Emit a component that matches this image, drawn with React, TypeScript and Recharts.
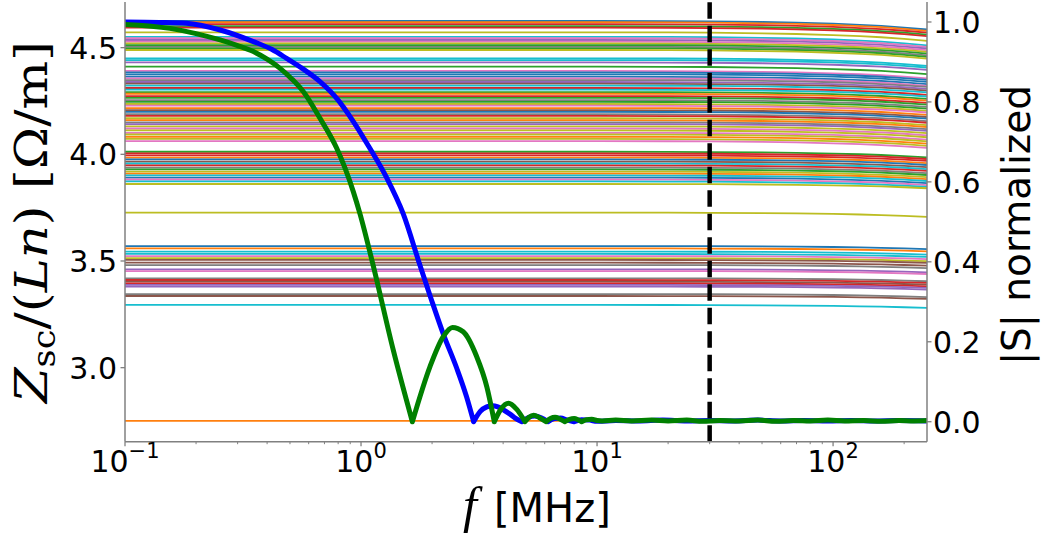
import React from 'react';
import { LineChart, Line, XAxis, YAxis } from 'recharts';

// matplotlib tab10 cycle
const TAB10 = ['#1f77b4', '#ff7f0e', '#2ca02c', '#d62728', '#9467bd', '#8c564b', '#e377c2', '#7f7f7f', '#bcbd22', '#17becf'];

// Z_sc/(Ln) [Ω/m] levels at low frequency, one entry per line, grouped by cluster
const zBandTop = [4.625, 4.619, 4.610, 4.601, 4.594, 4.572];
const zBandB = [4.551, 4.544, 4.536, 4.528, 4.520, 4.512, 4.504, 4.497, 4.489];
const zBandC = [4.450, 4.442, 4.431, 4.411];
const zBandD = [4.391, 4.384, 4.375, 4.364, 4.356];
const zBandE = [
  4.348, 4.339, 4.331, 4.322, 4.311, 4.303, 4.292, 4.284, 4.273, 4.265, 4.254, 4.246, 4.236, 4.228, 4.217, 4.207,
  4.199, 4.188, 4.180, 4.169, 4.160, 4.150, 4.142, 4.131, 4.121, 4.112, 4.101, 4.093, 4.082, 4.072, 4.062,
];
const zBandF = [4.012, 4.004, 3.995, 3.985, 3.976, 3.966, 3.957, 3.948, 3.938, 3.929, 3.919, 3.910, 3.901, 3.891, 3.882, 3.873];
const zSingles = [3.861, 3.727];
const zBandG = [3.570, 3.559, 3.544, 3.533, 3.523, 3.513, 3.505, 3.492, 3.481, 3.461, 3.453];
const zBandH = [3.419, 3.411, 3.403, 3.395, 3.388, 3.380, 3.345, 3.336, 3.294];
const zBottom = [2.751];

// how far each cluster has sagged by 250 MHz [Ω/m]
const zDrops = [0.04, 0.04, 0.035, 0.035, 0.032, 0.026, 0.02, 0.014, 0.014, 0];

// frequency samples for the Z lines and the share of the sag reached at each
const zFreqs = [0.1, 10, 20, 30, 50, 70, 100, 130, 160, 200, 250];
const zBend = [0, 0, 0.02, 0.05, 0.12, 0.2, 0.32, 0.45, 0.58, 0.77, 1];

// |S| normalized, blue
const blueFreqs = [
  0.1, 0.14, 0.182, 0.253, 0.35, 0.42, 0.484, 0.57, 0.67, 0.789, 0.928, 1.09, 1.285, 1.51, 1.78, 1.99, 2.23, 2.54, 2.8, 3.0,
  3.2, 3.41, 3.6, 3.8, 4.05, 4.28, 4.5, 4.8, 5.1, 5.45, 5.8, 6.2, 6.6, 7.0, 7.5, 8.0, 8.6, 9.3, 10,
  12, 15, 19, 24, 30, 38, 48, 60, 75, 95, 120, 150, 190, 250,
];
const blueS = [
  1.0, 0.999, 0.997, 0.98, 0.951, 0.931, 0.909, 0.882, 0.851, 0.809, 0.751, 0.684, 0.61, 0.52, 0.39, 0.304, 0.22, 0.135, 0.0625, 0.0,
  0.026, 0.037, 0.04, 0.037, 0.028, 0.019, 0.009, 0.0, 0.01, 0.014, 0.01, 0.0, 0.008, 0.009, 0.004, 0.0, 0.005, 0.004, 0.001,
  0.003, 0.002, 0.004, 0.002, 0.003, 0.002, 0.004, 0.002, 0.003, 0.002, 0.003, 0.002, 0.003, 0.002,
];
const blueNulls = [3.0, 4.8, 6.2, 8.0];

// |S| normalized, green
const greenFreqs = [
  0.1, 0.155, 0.2, 0.253, 0.3, 0.35, 0.4, 0.454, 0.51, 0.569, 0.67, 0.789, 0.928, 0.99, 1.127, 1.37, 1.65,
  1.96, 2.23, 2.44, 2.71, 3.09, 3.41, 3.67, 3.9, 4.22, 4.55, 4.95, 5.15, 5.39, 5.7, 6.08, 6.35, 6.64, 6.95,
  7.3, 7.65, 8.0, 8.3, 8.6, 9.0, 9.5, 10, 10.5, 12, 14, 17, 20, 24, 28, 33, 40, 48, 57, 68, 80, 95, 112, 135,
  160, 190, 220, 250,
];
const greenS = [
  0.994, 0.984, 0.971, 0.955, 0.941, 0.926, 0.907, 0.884, 0.857, 0.826, 0.759, 0.684, 0.575, 0.52, 0.39, 0.179, 0.0,
  0.138, 0.213, 0.236, 0.225, 0.163, 0.088, 0.0, 0.03, 0.046, 0.032, 0.0, 0.011, 0.016, 0.01, 0.0, 0.008, 0.011, 0.007,
  0.0, 0.006, 0.008, 0.005, 0.0, 0.005, 0.006, 0.003, 0.002, 0.004, 0.002, 0.004, 0.002, 0.004, 0.001, 0.003, 0.002, 0.004,
  0.001, 0.003, 0.002, 0.004, 0.002, 0.003, 0.001, 0.003, 0.002, 0.003,
];
const greenNulls = [1.65, 3.67, 4.95, 6.08, 7.3, 8.6];

// vertical marker
const markerFreq = 30;

const xTicks = [
  0.1, 0.2, 0.3, 0.4, 0.5, 0.6, 0.7, 0.8, 0.9, 1, 2, 3, 4, 5, 6, 7, 8, 9, 10, 20, 30, 40, 50, 60, 70, 80, 90, 100, 200,
];
const zTicks = [3.0, 3.5, 4.0, 4.5];
const sTicks = [0, 0.2, 0.4, 0.6, 0.8, 1.0];

// tab10 index per line, cluster by cluster
const zColors = ['013238', '964682728', '9942', '60006', '7459392132728615073817486868186', '2331059372819069', '88', '01996855746', '735344759', '1'];

const zClusters = [zBandTop, zBandB, zBandC, zBandD, zBandE, zBandF, zSingles, zBandG, zBandH, zBottom];

const zLines = zClusters.flatMap((levels, c) =>
  levels.map((level, k) => ({ level, drop: zDrops[c], color: TAB10[Number(zColors[c][k])] })),
);

const zTable = zFreqs.map((f, i) => {
  const row: Record<string, number> = { f };
  zLines.forEach((ln, k) => {
    row['z' + k] = ln.level - ln.drop * zBend[i];
  });
  return row;
});

// each lobe gets its own smooth segment; the path restarts at every zero so the notches stay sharp
const lobes = (freqs: number[], vals: number[], nulls: number[]) => {
  const out: { f: number; s: number | null }[] = [];
  freqs.forEach((f, i) => {
    out.push({ f, s: vals[i] });
    if (nulls.includes(f) && i < freqs.length - 1) {
      out.push({ f, s: null });
      out.push({ f, s: vals[i] });
    }
  });
  return out;
};

const blueData = lobes(blueFreqs, blueS, blueNulls);
const greenData = lobes(greenFreqs, greenS, greenNulls);
const markerData = [
  { f: markerFreq, s: -0.05 },
  { f: markerFreq, s: 1.05 },
];

const SPINE = '#808080';
const FONT = 'DejaVu Sans';

const XTick = (props: any) => {
  const { x, y, payload } = props;
  const lg = Math.log10(payload.value);
  const e = Math.round(lg);
  const major = Math.abs(lg - e) < 1e-6;
  return (
    <g>
      <line x1={x} y1={y} x2={x} y2={y + (major ? 4.5 : 2.5)} stroke={SPINE} strokeWidth={major ? 1.3 : 1} />
      {major && (
        <text x={x} y={y + 30} textAnchor="middle" fontFamily={FONT} fontSize={30} fill="#000">
          10
          <tspan dy={-13.5} fontSize={21}>
            {e < 0 ? '\u2212' + -e : String(e)}
          </tspan>
        </text>
      )}
    </g>
  );
};

const ZTick = (props: any) => {
  const { x, y, payload } = props;
  return (
    <g>
      <line x1={x} y1={y} x2={x - 4.5} y2={y} stroke={SPINE} strokeWidth={1.3} />
      <text x={x - 8} y={y + 11} textAnchor="end" fontFamily={FONT} fontSize={30} fill="#000">
        {payload.value.toFixed(1)}
      </text>
    </g>
  );
};

const STick = (props: any) => {
  const { x, y, payload } = props;
  return (
    <g>
      <line x1={x} y1={y} x2={x + 4.5} y2={y} stroke={SPINE} strokeWidth={1.3} />
      <text x={x + 6} y={y + 11} textAnchor="start" fontFamily={FONT} fontSize={30} fill="#000">
        {payload.value.toFixed(1)}
      </text>
    </g>
  );
};

export default function App() {
  return (
    <div style={{ position: 'absolute', left: 0, top: 0, width: 1048, height: 535, background: '#fff' }}>
      <LineChart width={1048} height={535} data={zTable} margin={{ top: 2, right: 0, bottom: 0, left: 0 }}>
        <XAxis
          dataKey="f"
          type="number"
          scale="log"
          domain={[0.1, 250]}
          allowDataOverflow
          ticks={xTicks}
          interval={0}
          tick={<XTick />}
          tickLine={false}
          tickSize={0}
          tickMargin={0}
          height={93.3}
          axisLine={{ stroke: SPINE, strokeWidth: 1.5 }}
        />
        <YAxis
          yAxisId="z"
          type="number"
          domain={[2.653, 4.714]}
          allowDataOverflow
          ticks={zTicks}
          interval={0}
          tick={<ZTick />}
          tickLine={false}
          tickSize={0}
          tickMargin={0}
          width={125}
          axisLine={{ stroke: SPINE, strokeWidth: 1.5 }}
        />
        <YAxis
          yAxisId="s"
          orientation="right"
          type="number"
          domain={[-0.05, 1.05]}
          allowDataOverflow
          ticks={sTicks}
          interval={0}
          tick={<STick />}
          tickLine={false}
          tickSize={0}
          tickMargin={0}
          width={121}
          axisLine={{ stroke: SPINE, strokeWidth: 1.5 }}
        />
        {zLines.map((ln, k) => (
          <Line
            key={'z' + k}
            yAxisId="z"
            dataKey={'z' + k}
            type="linear"
            stroke={ln.color}
            strokeWidth={1.8}
            dot={false}
            activeDot={false}
            isAnimationActive={false}
          />
        ))}
        <Line
          data={blueData}
          yAxisId="s"
          dataKey="s"
          type="monotone"
          stroke="#0000ff"
          strokeWidth={5}
          strokeLinecap="round"
          strokeLinejoin="round"
          dot={false}
          activeDot={false}
          isAnimationActive={false}
        />
        <Line
          data={greenData}
          yAxisId="s"
          dataKey="s"
          type="monotone"
          stroke="#008000"
          strokeWidth={5}
          strokeLinecap="round"
          strokeLinejoin="round"
          dot={false}
          activeDot={false}
          isAnimationActive={false}
        />
        <Line
          data={markerData}
          yAxisId="s"
          dataKey="s"
          type="linear"
          stroke="#000"
          strokeWidth={4.5}
          strokeDasharray="16.5 7"
          dot={false}
          activeDot={false}
          isAnimationActive={false}
        />
      </LineChart>
      <svg width={1048} height={535} style={{ position: 'absolute', left: 0, top: 0, pointerEvents: 'none' }}>
        <text x={463} y={521.7} fontFamily="Liberation Serif" fontStyle="italic" fontSize={50} fill="#000">
          f
        </text>
        <text x={494} y={521.7} fontFamily={FONT} fontSize={40} fill="#000">
          [MHz]
        </text>
        <text
          transform="translate(46.7,222) rotate(-90)"
          textAnchor="middle"
          fontFamily="DejaVu Serif"
          fontSize={45}
          fill="#000"
          textLength={362}
          lengthAdjust="spacingAndGlyphs"
        >
          <tspan fontStyle="italic">Z</tspan>
          <tspan fontSize={31} dy={8}>
            sc
          </tspan>
          <tspan dy={-8}>/(</tspan>
          <tspan fontStyle="italic">Ln</tspan>
          <tspan>) [Ω/m]</tspan>
        </text>
        <text transform="translate(1030,225) rotate(-90)" textAnchor="middle" fontFamily={FONT} fontSize={39} fill="#000">
          |S| normalized
        </text>
      </svg>
    </div>
  );
}
